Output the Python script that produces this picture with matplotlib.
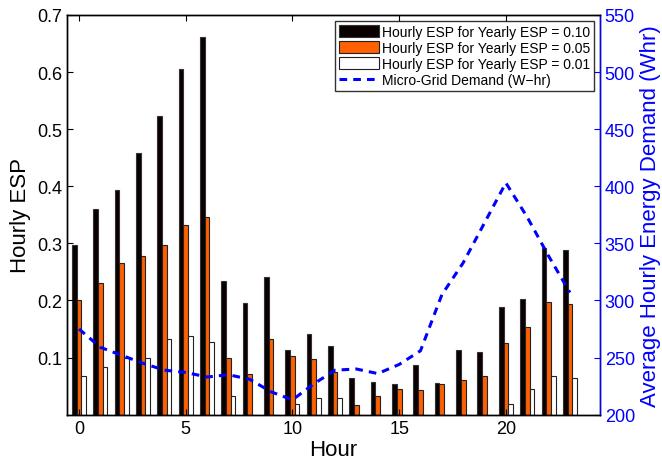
import numpy as np
import matplotlib.pyplot as plt

plt.rcParams['font.family'] = ['Liberation Sans', 'DejaVu Sans']

hours = np.arange(24)
esp_010 = [0.297, 0.361, 0.394, 0.458, 0.523, 0.606, 0.662, 0.234, 0.196, 0.241,
           0.114, 0.141, 0.121, 0.065, 0.057, 0.053, 0.087, 0.055, 0.113, 0.110,
           0.188, 0.203, 0.292, 0.289]
esp_005 = [0.200, 0.231, 0.265, 0.278, 0.298, 0.333, 0.346, 0.100, 0.071, 0.132,
           0.103, 0.098, 0.075, 0.017, 0.032, 0.045, 0.044, 0.053, 0.061, 0.068,
           0.126, 0.154, 0.197, 0.194]
esp_001 = [0.067, 0.084, 0.100, 0.100, 0.132, 0.137, 0.128, 0.032, 0.0, 0.0,
           0.019, 0.030, 0.030, 0.0, 0.0, 0.0, 0.0, 0.0, 0.0, 0.0,
           0.019, 0.045, 0.067, 0.065]
demand = [275, 259, 252, 245, 239, 237, 233, 235, 231, 220,
          213, 227, 239, 240, 236, 244, 256, 305, 333, 368,
          403, 373, 339, 307]

fig = plt.figure(figsize=(6.62, 4.60), dpi=100)
ax = fig.add_axes([0.101, 0.0963, 0.805, 0.869])
ax2 = ax.twinx()

w = 0.22
b1 = ax.bar(hours - w, esp_010, w, color='#0a0000', edgecolor='#333333', linewidth=0.8,
            label='Hourly ESP for Yearly ESP = 0.10')
b2 = ax.bar(hours, esp_005, w, color='#ff6000', edgecolor='#222222', linewidth=0.8,
            label='Hourly ESP for Yearly ESP = 0.05')
b3 = ax.bar(hours + w, esp_001, w, color='white', edgecolor='#222222', linewidth=0.8,
            label='Hourly ESP for Yearly ESP = 0.01')

ln, = ax2.plot(hours, demand, color='#0000ff', linestyle=(0, (2.5, 2.0)), linewidth=2.2,
               label='Micro-Grid Demand (W\u2212hr)')

ax.set_xlim(-0.57, 24.4)
ax.set_ylim(0, 0.7)
ax.set_yticks([0.1, 0.2, 0.3, 0.4, 0.5, 0.6, 0.7])
ax.set_yticklabels(['0.1', '0.2', '0.3', '0.4', '0.5', '0.6', '0.7'])
ax.set_xticks([0, 5, 10, 15, 20])
ax.tick_params(axis='x', direction='in', top=True, labelsize=13, length=4)
ax.tick_params(axis='y', direction='in', labelsize=13, length=4)
ax.set_xlabel('Hour', fontsize=16, labelpad=2)
ax.set_ylabel('Hourly ESP', fontsize=16)

ax2.set_ylim(200, 550)
ax2.set_yticks(range(200, 551, 50))
ax2.tick_params(axis='y', direction='in', colors='#0000ff', labelsize=13, length=4)
ax2.set_ylabel('Average Hourly Energy Demand (Whr)', fontsize=16, color='#0000ff')

for a in (ax, ax2):
    for s in a.spines.values():
        s.set_linewidth(1.0)
ax2.spines['right'].set_color('#0000ff')

leg = ax2.legend([b1, b2, b3, ln], [b1.get_label(), b2.get_label(), b3.get_label(), ln.get_label()],
                 loc='upper right', fontsize=10, frameon=True, fancybox=False,
                 edgecolor='black', borderpad=0.3, labelspacing=0.15,
                 handlelength=2.9, handleheight=0.9, handletextpad=0.2, borderaxespad=0.4)
leg.get_frame().set_linewidth(1.0)

fig.savefig('out.png', dpi=100)
